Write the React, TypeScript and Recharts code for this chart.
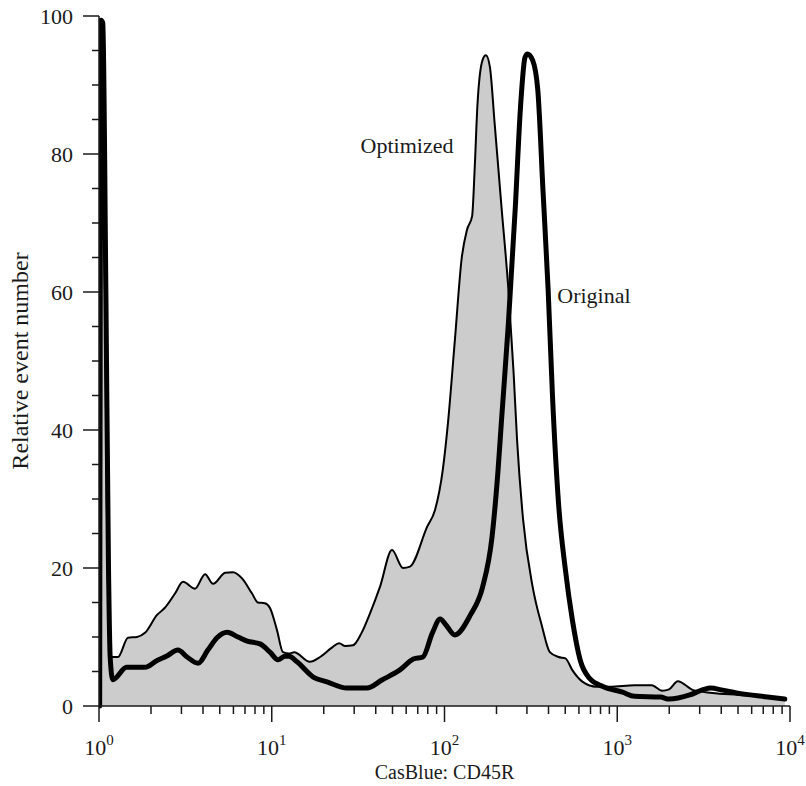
import React from 'react';
import { ComposedChart, Area, Line, XAxis, YAxis, ReferenceDot } from 'recharts';

// x positions are CasBlue intensity, y is relative event number
const optimizedX = [
  1.009, 1.028, 1.059, 1.109, 1.148, 1.189, 1.288, 1.472, 1.66, 1.845, 2.168, 2.399, 2.754, 3.062,
  3.597, 4.111, 4.571, 5.37, 5.97, 6.73, 7.69, 8.32, 9.12, 9.77, 10.72, 11.61, 12.59, 13.49, 16.6,
  19.05, 22.39, 24.55, 26.61, 29.51, 33.11, 37.15, 42.36, 49.66, 57.54, 63.1, 79.4, 88.1, 97.7,
  104.7, 114.8, 125.9, 134.9, 144.5, 149.6, 154.9, 166.0, 173.8, 183.2, 195.0, 213.8, 234.4,
  251.2, 263.0, 285.1, 323.6, 367.3, 407.4, 457.1, 501.2, 549.5, 631.0, 758.6, 912.0, 1259,
  1585, 1820, 1995, 2239, 2754, 3548, 5012, 7079, 9333,
];
const optimizedY = [
  0, 95, 88, 30, 10, 7.1, 7.1, 9.9, 10, 10.6, 13.2, 14.2, 16.3, 18, 17, 19.1, 17.7, 19.3, 19.4,
  18.5, 16.3, 15, 14.9, 14.2, 11, 7.8, 7.6, 7.8, 6.4, 7.1, 8.5, 9.1, 8.7, 8.8, 10.6, 13.5, 17.3,
  22.6, 20, 20.2, 26, 28.4, 34.2, 41, 53, 65, 69, 71, 78, 86.8, 93.6, 94.3, 92.6, 84.5, 72.3,
  60.3, 48.3, 38.6, 27, 17.3, 11.5, 7.8, 7.1, 6.9, 5.2, 3.5, 2.8, 2.8, 3.0, 3.0, 2.2, 2.4, 3.6,
  2.3, 1.9, 1.6, 1.3, 0.9,
];

const originalX = [
  1.009, 1.028, 1.052, 1.096, 1.135, 1.161, 1.202, 1.445, 1.845, 2.168, 2.455, 2.864, 3.236,
  3.741, 4.266, 4.819, 5.52, 6.38, 7.21, 8.55, 9.77, 10.86, 11.94, 12.59, 14.0, 17.38, 20.89,
  27.23, 35.48, 43.65, 54.95, 66.07, 74.99, 85.1, 94.4, 102.3, 114.8, 141.3, 166.0, 188.4, 204.2,
  213.8, 234.4, 257.0, 275.4, 292.4, 302.0, 323.6, 346.7, 371.5, 398.1, 421.7, 457.1, 501.2,
  549.5, 609.5, 691.8, 831.8, 1072, 1259, 1778, 1995, 2630, 3162, 3467, 4074, 4898, 7413, 9333,
];
const originalY = [
  0, 99.4, 99, 60, 20, 7, 3.8, 5.6, 5.6, 6.6, 7.2, 8.1, 7.1, 6.2, 8.1, 9.9, 10.7, 10, 9.4, 9,
  7.8, 6.7, 7.2, 7.2, 6.4, 4.2, 3.5, 2.6, 2.6, 3.8, 5.2, 6.8, 7.1, 10.6, 12.6, 11.7, 10.3, 13.2,
  17.2, 24.5, 34.2, 41.4, 55.5, 72.3, 86.8, 94, 94.5, 93.6, 89.3, 74.8, 60.3, 45, 29.4, 19.7,
  12.5, 6.7, 4, 2.8, 2.0, 1.4, 1.3, 1.0, 1.6, 2.4, 2.6, 2.3, 1.9, 1.3, 1.0,
];

const xTicks = [
  1, 2, 3, 4, 5, 6, 7, 8, 9, 10, 20, 30, 40, 50, 60, 70, 80, 90, 100, 200, 300, 400, 500, 600,
  700, 800, 900, 1000, 2000, 3000, 4000, 5000, 6000, 7000, 8000, 9000, 10000,
];
const xMajor = [1, 10, 100, 1000, 10000];
const yTicks = [0, 5, 10, 15, 20, 25, 30, 35, 40, 45, 50, 55, 60, 65, 70, 75, 80, 85, 90, 95, 100];
const yMajor = [0, 20, 40, 60, 80, 100];

const notes = [
  { text: 'Optimized', x: 60.7, y: 81.3 },
  { text: 'Original', x: 733, y: 59.6 },
];

const optimizedData = optimizedX.map((x, i) => ({ x, y: optimizedY[i] }));
const originalData = originalX.map((x, i) => ({ x, y: originalY[i] }));

const FONT = '"Liberation Serif", "Times New Roman", serif';
const INK = '#1a1a1a';

const XTick = (props: any) => {
  const { x, y, payload } = props;
  const major = xMajor.includes(payload.value);
  const exp = Math.round(Math.log10(payload.value));
  return (
    <g>
      <line x1={x} x2={x} y1={y} y2={y + (major ? 16 : 8)} stroke={INK} strokeWidth={1.5} />
      {major && (
        <text x={x} y={y + 49} textAnchor="middle" fontFamily={FONT} fontSize={22} fill={INK}>
          <tspan>10</tspan>
          <tspan dy={-10} fontSize={15}>{exp}</tspan>
        </text>
      )}
    </g>
  );
};

const YTick = (props: any) => {
  const { x, y, payload } = props;
  const major = yMajor.includes(payload.value);
  return (
    <g>
      <line x1={x - (major ? 16 : 7)} x2={x} y1={y} y2={y} stroke={INK} strokeWidth={1.5} />
      {major && (
        <text x={x - 26} y={y} dy="0.35em" textAnchor="end" fontFamily={FONT} fontSize={22} fill={INK}>
          {payload.value}
        </text>
      )}
    </g>
  );
};

const YTitle = (props: any) => {
  const { viewBox } = props;
  const cy = viewBox.y + viewBox.height / 2;
  return (
    <text x={20} y={cy} transform={`rotate(-90, 20, ${cy})`} dy="0.35em" textAnchor="middle" fontFamily={FONT} fontSize={24} fill={INK}>
      Relative event number
    </text>
  );
};

const XTitle = (props: any) => {
  const { viewBox } = props;
  const cx = viewBox.x + viewBox.width / 2;
  return (
    <text x={cx} y={779} textAnchor="middle" fontFamily={FONT} fontSize={20} fill={INK}>
      CasBlue: CD45R
    </text>
  );
};

export default function App() {
  return (
    <div style={{ position: 'absolute', left: 0, top: 0, background: '#fff' }}>
      <ComposedChart width={806} height={786} margin={{ top: 16, right: 16, bottom: 0, left: 0 }}>
        <XAxis
          dataKey="x"
          type="number"
          scale="log"
          domain={[1, 10000]}
          allowDataOverflow
          ticks={xTicks}
          interval={0}
          height={80}
          tickSize={0}
          tickMargin={0}
          tickLine={false}
          tick={<XTick />}
          axisLine={{ stroke: INK, strokeWidth: 1.5 }}
          label={<XTitle />}
        />
        <XAxis
          xAxisId="top"
          orientation="top"
          type="number"
          domain={[1, 10000]}
          height={0}
          tick={false}
          tickLine={false}
          axisLine={{ stroke: INK, strokeWidth: 1.5 }}
        />
        <YAxis
          type="number"
          domain={[0, 100]}
          ticks={yTicks}
          interval={0}
          width={99}
          tickSize={0}
          tickMargin={0}
          tickLine={false}
          tick={<YTick />}
          axisLine={{ stroke: INK, strokeWidth: 1.5 }}
          label={<YTitle />}
        />
        <YAxis
          yAxisId="right"
          orientation="right"
          type="number"
          domain={[0, 100]}
          width={0}
          tick={false}
          tickLine={false}
          axisLine={{ stroke: INK, strokeWidth: 1.5 }}
        />
        <Area
          data={optimizedData}
          dataKey="y"
          type="monotone"
          fill="#cccccc"
          fillOpacity={1}
          stroke="#000"
          strokeWidth={2}
          dot={false}
          activeDot={false}
          isAnimationActive={false}
        />
        <Line
          data={originalData}
          dataKey="y"
          type="monotone"
          stroke="#000"
          strokeWidth={5}
          strokeLinejoin="round"
          strokeLinecap="round"
          dot={false}
          activeDot={false}
          isAnimationActive={false}
        />
        {notes.map((n) => (
          <ReferenceDot
            key={n.text}
            x={n.x}
            y={n.y}
            r={0}
            fill="none"
            stroke="none"
            label={{ value: n.text, position: 'center', fontFamily: FONT, fontSize: 22, fill: INK }}
          />
        ))}
      </ComposedChart>
    </div>
  );
}
